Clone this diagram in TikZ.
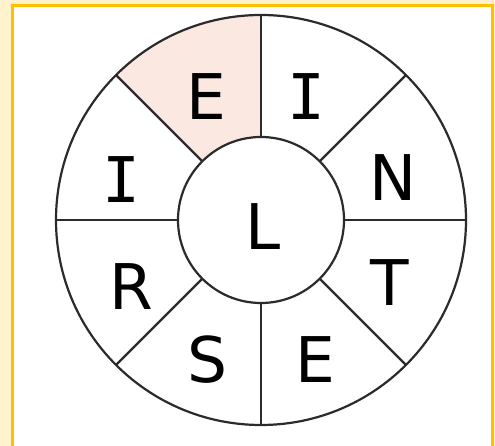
\documentclass[tikz,border=0pt]{standalone}
\usepackage{fontspec}
\usepackage{xcolor}
\usepackage{tikz}
\usetikzlibrary{calc}
\newfontfamily\wheelfont{DejaVu Sans}
\newfontfamily\wheelmono{DejaVu Sans Mono}
\definecolor{wheelback}{HTML}{FFF2CC}
\definecolor{wheelframe}{HTML}{FFC000}
\definecolor{wheelline}{HTML}{2B2B2B}
\definecolor{wheelshade}{HTML}{FBE9E1}
\tikzset{
  letter/.style={font=\wheelfont\fontsize{63}{63}\selectfont, text=black, inner sep=0pt},
  letteri/.style={letter, font=\wheelmono\fontsize{63}{63}\selectfont},
  ring/.style={draw=wheelline, line width=2.2pt},
  spoke/.style={draw=wheelline, line width=2.2pt},
}

\begin{document}
\begin{tikzpicture}[x=1pt, y=1pt]
  \clip (0,0) rectangle (495,446);
  \fill[wheelback] (0,0) rectangle (495,446);
  \draw[wheelframe, line width=3pt, fill=white] (12,-30) rectangle (492,440);
  \coordinate (c) at (261,226);

  % highlighted sector
  \fill[wheelshade] ($(c)+(90:205)$) arc[start angle=90, end angle=135, radius=205]
    -- ($(c)+(135:83)$) arc[start angle=135, end angle=90, radius=83] -- cycle;

  \foreach \a in {0,45,...,315}
    \draw[spoke] ($(c)+(\a:83)$) -- ($(c)+(\a:205)$);
  \draw[ring] (c) circle[radius=205];
  \draw[ring, fill=white] (c) circle[radius=83];

  \node[letter] (e1) at (206,349) {E};
  \node[letteri] (i1) at (306,349) {I};
  \node[letter] (n) at (393,268) {N};
  \node[letter] (t) at (390,163) {T};
  \node[letter] (e2) at (315,86) {E};
  \node[letter] (s) at (207,86) {S};
  \node[letter] (r) at (131,159) {R};
  \node[letteri] (i2) at (121,266) {I};
  \node[letter] (l) at (263,219) {L};
\end{tikzpicture}
\end{document}
